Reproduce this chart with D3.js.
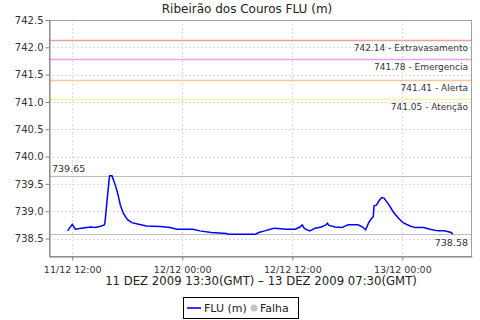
<!DOCTYPE html>
<html>
<head>
<meta charset="utf-8">
<script src="https://cdn.jsdelivr.net/npm/d3@7"></script>
<style>
  body { margin: 0; background: #fff; }
  svg text { font-family: "DejaVu Sans", sans-serif; }
</style>
</head>
<body>
<div id="chart"></div>
<script>
// Ribeirão dos Couros - level chart

const width = 480
const height = 320
const margin = { top: 20, right: 8, bottom: 64, left: 49 }

// Readings (local time, year 2009)
const times = [
  '11/12 11:30', '11/12 12:00', '11/12 12:20', '11/12 13:00', '11/12 14:00', '11/12 14:30',
  '11/12 15:00', '11/12 15:30', '11/12 15:35', '11/12 15:45', '11/12 16:00', '11/12 16:05',
  '11/12 16:20', '11/12 16:30', '11/12 16:45', '11/12 17:00', '11/12 17:15', '11/12 17:35',
  '11/12 18:00', '11/12 18:30', '11/12 19:15', '11/12 20:05', '11/12 21:35', '11/12 22:40',
  '11/12 23:25', '12/12 01:10', '12/12 01:55', '12/12 03:10', '12/12 04:50', '12/12 05:00',
  '12/12 08:00', '12/12 08:20', '12/12 09:00', '12/12 09:35', '12/12 10:05', '12/12 11:25',
  '12/12 12:20', '12/12 12:50', '12/12 13:05', '12/12 13:20', '12/12 13:55', '12/12 14:30',
  '12/12 15:10', '12/12 15:40', '12/12 15:50', '12/12 16:00', '12/12 16:40', '12/12 17:25',
  '12/12 18:05', '12/12 19:10', '12/12 19:40', '12/12 20:00', '12/12 20:20', '12/12 20:40',
  '12/12 20:50', '12/12 20:55', '12/12 21:10', '12/12 21:30', '12/12 21:45', '12/12 22:00',
  '12/12 22:30', '12/12 23:00', '12/12 23:35', '13/12 00:05', '13/12 00:50', '13/12 01:25',
  '13/12 02:20', '13/12 03:00', '13/12 03:55', '13/12 04:35', '13/12 05:20', '13/12 05:30'
]
const levels = [
  738.64, 738.76, 738.67, 738.69, 738.71, 738.70,
  738.72, 738.75, 738.81, 739.11, 739.54, 739.65,
  739.65, 739.57, 739.45, 739.30, 739.11, 738.96,
  738.85, 738.79, 738.76, 738.73, 738.72, 738.70,
  738.67, 738.67, 738.64, 738.61, 738.59, 738.58,
  738.58, 738.61, 738.64, 738.67, 738.69, 738.67,
  738.67, 738.71, 738.75, 738.68, 738.64, 738.69,
  738.71, 738.75, 738.78, 738.74, 738.71, 738.70,
  738.75, 738.75, 738.71, 738.66, 738.79, 738.87,
  738.90, 739.10, 739.11, 739.20, 739.25, 739.24,
  739.13, 738.99, 738.87, 738.79, 738.73, 738.70,
  738.70, 738.67, 738.64, 738.64, 738.61, 738.58
]

// Alarm thresholds
const limitValues = [742.14, 741.78, 741.41, 741.05]
const limitNames = ['Extravasamento', 'Emergencia', 'Alerta', 'Atenção']
const limitColors = ['#f0a0a0', '#f0a0f0', '#ffc896', '#fff0a0']

const yTicks = [738.5, 739.0, 739.5, 740.0, 740.5, 741.0, 741.5, 742.0, 742.5]
const xDomain = ['11/12 09:28', '13/12 07:36']
const yDomain = [738.18, 742.5]

const parse = d3.timeParse('%d/%m/%Y %H:%M')
const toDate = s => parse(s.replace(' ', '/2009 '))
const data = times.map((t, i) => ({ date: toDate(t), value: levels[i] }))

const svg = d3.select('#chart')
  .append('svg')
  .attr('width', width)
  .attr('height', height)

const x = d3.scaleTime()
  .domain(xDomain.map(toDate))
  .range([margin.left, width - margin.right])

const y = d3.scaleLinear()
  .domain(yDomain)
  .range([height - margin.bottom, margin.top])

const plotW = width - margin.right - margin.left
const plotH = height - margin.bottom - margin.top

// Plot background
svg.append('rect')
  .attr('x', margin.left).attr('y', margin.top)
  .attr('width', plotW).attr('height', plotH)
  .attr('fill', '#fff')

// Gridlines
const xTicks = d3.timeHour.every(12).range(x.domain()[0], x.domain()[1])
svg.append('g').selectAll('line')
  .data(xTicks)
  .enter().append('line')
  .attr('x1', d => Math.round(x(d)) + 0.5).attr('x2', d => Math.round(x(d)) + 0.5)
  .attr('y1', margin.top).attr('y2', margin.top + plotH)
  .attr('stroke', '#dcdcdc').attr('stroke-dasharray', '2,2')

svg.append('g').selectAll('line')
  .data(yTicks)
  .enter().append('line')
  .attr('x1', margin.left).attr('x2', margin.left + plotW)
  .attr('y1', d => Math.round(y(d)) + 0.5).attr('y2', d => Math.round(y(d)) + 0.5)
  .attr('stroke', '#dcdcdc').attr('stroke-dasharray', '2,2')

// Threshold lines and labels
limitValues.forEach((v, i) => {
  const yy = Math.round(y(v)) + 0.5
  svg.append('line')
    .attr('x1', margin.left).attr('x2', margin.left + plotW)
    .attr('y1', yy).attr('y2', yy)
    .attr('stroke', limitColors[i]).attr('stroke-width', 1.3)
  svg.append('text')
    .attr('x', margin.left + plotW - 4).attr('y', yy + 10)
    .attr('text-anchor', 'end')
    .attr('font-size', '9px').attr('fill', '#333')
    .text(`${v.toFixed(2)} - ${limitNames[i]}`)
})

// Max / min markers
const maxV = d3.max(levels)
const minV = d3.min(levels)
;[maxV, minV].forEach(v => {
  const yy = Math.round(y(v)) + 0.5
  svg.append('line')
    .attr('x1', margin.left).attr('x2', margin.left + plotW)
    .attr('y1', yy).attr('y2', yy)
    .attr('stroke', '#bdbdbd').attr('stroke-width', 1.2)
})
svg.append('text')
  .attr('x', margin.left + 3).attr('y', Math.round(y(maxV)) - 4)
  .attr('font-size', '9.5px').attr('fill', '#333')
  .text(maxV.toFixed(2))
svg.append('text')
  .attr('x', margin.left + plotW - 4).attr('y', Math.round(y(minV)) + 12)
  .attr('text-anchor', 'end')
  .attr('font-size', '9.5px').attr('fill', '#333')
  .text(minV.toFixed(2))

// Data line
const line = d3.line()
  .x(d => x(d.date))
  .y(d => y(d.value))

svg.append('path')
  .datum(data)
  .attr('fill', 'none')
  .attr('stroke', '#0000ff')
  .attr('stroke-width', 1.5)
  .attr('d', line)

// Plot outline
svg.append('rect')
  .attr('x', margin.left + 0.5).attr('y', margin.top + 0.5)
  .attr('width', plotW - 1).attr('height', plotH)
  .attr('fill', 'none').attr('stroke', '#a0a0a0')

// Axes
const yAxis = svg.append('g')
  .attr('transform', `translate(${margin.left + 0.5},0)`)
  .call(d3.axisLeft(y).tickValues(yTicks).tickFormat(d3.format('.1f')).tickSize(4).tickSizeOuter(0))
yAxis.select('.domain').attr('stroke', '#808080')
yAxis.selectAll('.tick line').attr('stroke', '#808080')
yAxis.selectAll('text').attr('font-size', '10px').attr('fill', '#333')
  .attr('font-family', '"DejaVu Sans", sans-serif').attr('x', -6)

const xAxis = svg.append('g')
  .attr('transform', `translate(0,${margin.top + plotH + 0.5})`)
  .call(d3.axisBottom(x).tickValues(xTicks).tickFormat(d3.timeFormat('%d/%m %H:%M')).tickSize(4).tickSizeOuter(0))
xAxis.select('.domain').attr('stroke', '#808080')
xAxis.selectAll('.tick line').attr('stroke', '#808080')
xAxis.selectAll('text').attr('font-size', '9.5px').attr('fill', '#333')
  .attr('font-family', '"DejaVu Sans", sans-serif').attr('dy', '0.95em')

// Title
svg.append('text')
  .attr('x', 247).attr('y', 13)
  .attr('text-anchor', 'middle')
  .attr('font-size', '12px').attr('fill', '#222')
  .text('Ribeirão dos Couros FLU (m)')

// Period subtitle
svg.append('text')
  .attr('x', 261).attr('y', 285)
  .attr('text-anchor', 'middle')
  .attr('font-size', '11.7px').attr('fill', '#222')
  .text('11 DEZ 2009 13:30(GMT) – 13 DEZ 2009 07:30(GMT)')

// Legend
const legend = svg.append('g').attr('transform', 'translate(183,297)')
legend.append('rect')
  .attr('x', 0.5).attr('y', 0.5).attr('width', 115).attr('height', 21)
  .attr('fill', '#fff').attr('stroke', '#000')
legend.append('line')
  .attr('x1', 4).attr('x2', 18).attr('y1', 11).attr('y2', 11)
  .attr('stroke', '#0000ff').attr('stroke-width', 1.6)
legend.append('text')
  .attr('x', 21).attr('y', 15).attr('font-size', '11px').attr('fill', '#222')
  .text('FLU (m)')
legend.append('circle')
  .attr('cx', 71).attr('cy', 11).attr('r', 3.5).attr('fill', '#c4c4c4')
legend.append('text')
  .attr('x', 77).attr('y', 15).attr('font-size', '11px').attr('fill', '#222')
  .text('Falha')
</script>
</body>
</html>
